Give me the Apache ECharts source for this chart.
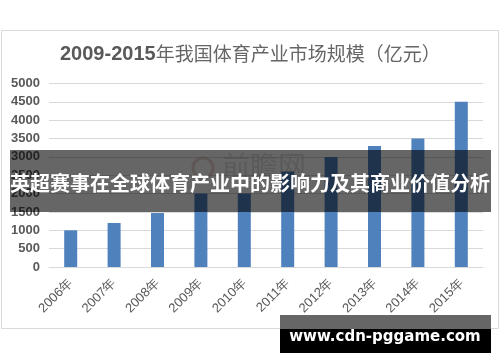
<!DOCTYPE html>
<html>
<head>
<meta charset="utf-8">
<script src="https://cdn.jsdelivr.net/npm/echarts@6/dist/echarts.min.js"></script>
<style>html,body{margin:0;padding:0;background:#fff}#c{width:500px;height:362px}</style>
</head>
<body>
<div id="c"></div>
<script>
var categories = ['2006年','2007年','2008年','2009年','2010年','2011年','2012年','2013年','2014年','2015年'];
var values = [1000, 1200, 1470, 2000, 2000, 2600, 3000, 3300, 3500, 4500];
var yTicks = {min: 0, max: 5000, interval: 500};
var titleBold = '2009-2015';
var titleRest = '年我国体育产业市场规模（亿元）';
var bannerText = '英超赛事在全球体育产业中的影响力及其商业价值分析';
var siteText = 'www.cdn-pggame.com';
var watermarkText = '前瞻网';

var chart = echarts.init(document.getElementById('c'), null, {renderer: 'canvas'});
chart.setOption({
  animation: false,
  backgroundColor: '#fff',
  title: {
    text: '{a|' + titleBold + '}{b|' + titleRest + '}',
    left: 55,
    top: 39,
    textStyle: {
      rich: {
        a: {fontFamily: 'Liberation Sans', fontWeight: 'bold', fontSize: 20, color: '#595959'},
        b: {fontFamily: 'Noto Sans CJK SC', fontWeight: 'normal', fontSize: 19, color: '#666666'}
      }
    }
  },
  grid: {left: 49, right: 17, top: 83.5, bottom: 95, containLabel: false},
  xAxis: {
    type: 'category',
    data: categories,
    axisLine: {show: true, lineStyle: {color: '#d9d9d9'}},
    axisTick: {show: false},
    axisLabel: {rotate: 45, margin: 14, fontSize: 13, color: '#595959', fontFamily: 'Liberation Sans'}
  },
  yAxis: {
    type: 'value',
    min: yTicks.min, max: yTicks.max, interval: yTicks.interval,
    axisLine: {show: false},
    axisTick: {show: false},
    splitLine: {lineStyle: {color: '#d9d9d9'}},
    axisLabel: {margin: 9, fontSize: 13, fontWeight: 'bold', color: '#595959', fontFamily: 'Liberation Sans',
      formatter: function (v) { return String(v); }}
  },
  series: [{
    type: 'bar',
    data: values,
    barWidth: 13,
    itemStyle: {color: '#4f81bd'},
    z: 2
  }],
  graphic: [
    {type: 'rect', z: -10, shape: {x: 1.5, y: 30.5, width: 497, height: 298}, style: {fill: 'none', stroke: '#d9d9d9', lineWidth: 1}},
    {type: 'circle', z: 1, shape: {cx: 203, cy: 168, r: 10}, style: {fill: 'none', stroke: 'rgba(200,150,140,0.35)', lineWidth: 3}},
    {type: 'text', z: 1, x: 222, y: 152, style: {text: watermarkText, fontSize: 28, fontFamily: 'Noto Sans CJK SC', fill: 'rgba(190,190,190,0.45)'}},
    {type: 'rect', z: 100, shape: {x: 10, y: 150, width: 481, height: 62}, style: {fill: 'rgba(0,0,0,0.6)'}},
    {type: 'text', z: 101, x: 250, y: 183, style: {text: bannerText, fontSize: 20, fontWeight: 'bold', fontFamily: 'Noto Sans CJK SC', fill: '#fff', align: 'center', verticalAlign: 'middle'}},
    {type: 'rect', z: 100, shape: {x: 280, y: 315, width: 211, height: 14}, style: {fill: '#666666'}},
    {type: 'rect', z: 100, shape: {x: 280, y: 329, width: 211, height: 24}, style: {fill: '#000000'}},
    {type: 'text', z: 101, x: 385, y: 337, style: {text: siteText, fontSize: 15, fontWeight: 'bold', fontFamily: 'DejaVu Sans', fill: '#fff', align: 'center', verticalAlign: 'middle'}}
  ]
});
</script>
</body>
</html>
